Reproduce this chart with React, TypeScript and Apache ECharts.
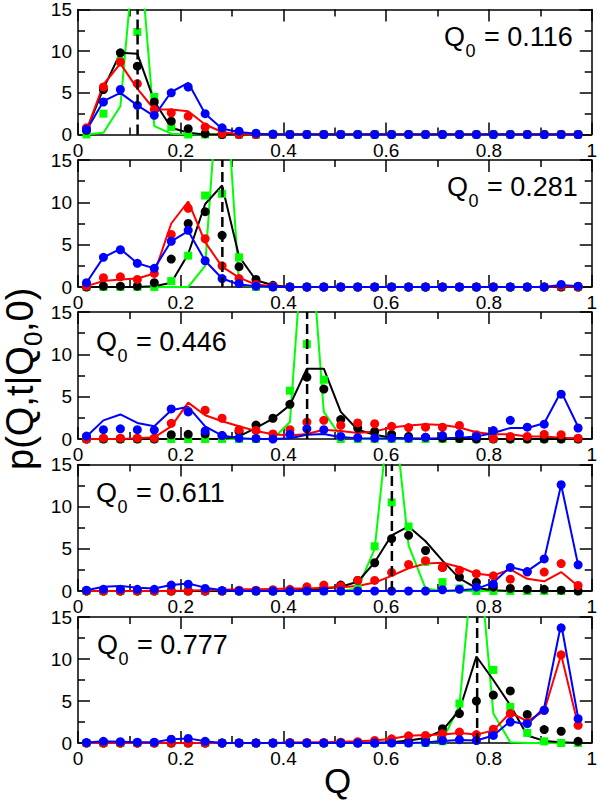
import React, { useEffect, useRef } from 'react';
import * as echarts from 'echarts';

// ---- bin centres (Q) ----
const Q = [0.0165, 0.0495, 0.0825, 0.1155, 0.1485, 0.1815, 0.2145, 0.2475, 0.2805, 0.3135,
  0.3465, 0.3795, 0.4125, 0.4455, 0.4785, 0.5115, 0.5445, 0.5775, 0.6105, 0.6435,
  0.6765, 0.7095, 0.7425, 0.7755, 0.8085, 0.8415, 0.8745, 0.9075, 0.9405, 0.9735];

const Q0 = [0.116, 0.281, 0.446, 0.611, 0.777];
const Q0_TEXT = ['0.116', '0.281', '0.446', '0.611', '0.777'];
const X_LABELS = ['0', '0.2', '0.4', '0.6', '0.8', '1'];

// ---- panel 1 : Q0 = 0.116 ----
const p1GreenLine = [0, 0.2, 3.4, 26, 1.0, 0.1, 0, 0, 0, 0, 0, 0, 0, 0, 0, 0, 0, 0, 0, 0, 0, 0, 0, 0, 0, 0, 0, 0, 0, 0];
const p1GreenSq = [0, 2.5, 8.8, 12.3, 4.5, 0.9, 0, 0, 0, 0, 0, 0, 0, 0, 0, 0, 0, 0, 0, 0, 0, 0, 0, 0, 0, 0, 0, 0, 0, 0];
const p1BlackLine = [0.5, 5.5, 9.8, 9.7, 4.0, 0.8, 0.2, 0, 0, 0, 0, 0, 0, 0, 0, 0, 0, 0, 0, 0, 0, 0, 0, 0, 0, 0, 0, 0, 0, 0];
const p1BlackDots = [0.5, 5.4, 9.8, 8.2, 3.9, 1.6, 0.7, 0.1, 0, 0, 0, 0, 0, 0, 0, 0, 0, 0, 0, 0, 0, 0, 0, 0, 0, 0, 0, 0, 0, 0];
const p1RedLine = [0.5, 6.0, 8.5, 5.5, 3.0, 3.0, 2.8, 1.2, 0.3, 0, 0, 0, 0, 0, 0, 0, 0, 0, 0, 0, 0, 0, 0, 0, 0, 0, 0, 0, 0, 0];
const p1RedDots = [0.8, 5.7, 8.7, 6.1, 3.0, 2.6, 2.2, 0.9, 0.1, 0, 0, 0, 0, 0, 0, 0, 0, 0, 0, 0, 0, 0, 0, 0, 0, 0, 0, 0, 0, 0];
const p1BlueLine = [0.5, 4.0, 5.0, 3.5, 2.2, 5.1, 6.2, 2.5, 0.7, 0.3, 0.1, 0, 0, 0, 0, 0, 0, 0, 0, 0, 0, 0, 0, 0, 0, 0, 0, 0, 0, 0];
const p1BlueDots = [0.6, 3.9, 5.4, 3.5, 2.3, 5.0, 5.7, 2.5, 0.8, 0.4, 0.15, 0.05, 0, 0, 0, 0, 0, 0, 0, 0, 0, 0, 0, 0, 0, 0, 0, 0, 0, 0];

// ---- panel 2 : Q0 = 0.281 ----
const p2GreenLine = [0, 0, 0, 0, 0, 0, 0, 2.5, 31, 0.3, 0, 0, 0, 0, 0, 0, 0, 0, 0, 0, 0, 0, 0, 0, 0, 0, 0, 0, 0, 0];
const p2GreenSq = [0, 0, 0, 0, 0, 0.7, 3.7, 10.8, 11.0, 3.5, 0, 0, 0, 0, 0, 0, 0, 0, 0, 0, 0, 0, 0, 0, 0, 0, 0, 0, 0, 0];
const p2BlackLine = [0, 0, 0, 0, 0.1, 0.5, 3.9, 9.8, 12.0, 3.6, 0.8, 0.2, 0, 0, 0, 0, 0, 0, 0, 0, 0, 0, 0, 0, 0, 0, 0, 0, 0, 0];
const p2BlackDots = [0, 0.1, 0.1, 0.1, 0.5, 3.3, 7.5, 8.9, 6.1, 2.4, 0.9, 0.2, 0, 0, 0, 0, 0, 0, 0, 0, 0, 0, 0, 0, 0, 0, 0, 0, 0, 0];
const p2RedLine = [0.1, 0.7, 0.9, 1.0, 1.6, 7.5, 10.1, 5.3, 2.4, 1.1, 0.3, 0.1, 0, 0, 0, 0, 0, 0, 0, 0, 0, 0, 0, 0, 0, 0, 0, 0, 0.1, 0];
const p2RedDots = [0.1, 1.1, 1.2, 0.9, 1.6, 6.2, 9.3, 5.7, 2.5, 1.0, 0.3, 0.1, 0, 0, 0, 0, 0, 0, 0, 0, 0, 0, 0, 0, 0, 0, 0, 0, 0.1, 0];
const p2BlueLine = [0.5, 3.5, 4.5, 2.8, 2.2, 5.4, 6.6, 3.1, 1.0, 0.3, 0.1, 0, 0, 0, 0, 0, 0, 0, 0, 0, 0, 0, 0, 0, 0, 0, 0, 0, 0.25, 0.1];
const p2BlueDots = [0.5, 3.5, 4.4, 2.8, 2.2, 5.4, 6.7, 3.1, 1.0, 0.4, 0.1, 0, 0, 0, 0, 0, 0, 0, 0, 0, 0, 0, 0, 0, 0, 0, 0, 0, 0.3, 0.1];

// ---- panel 3 : Q0 = 0.446 ----
const p3GreenLine = [0, 0, 0, 0, 0, 0, 0, 0, 0, 0, 0, 0, 2.0, 30, 3.2, 0.3, 0, 0, 0, 0, 0, 0, 0, 0, 0, 0, 0, 0, 0, 0];
const p3GreenSq = [0, 0, 0, 0, 0, 0, 0, 0, 0, 0, 0, 0.3, 5.7, 11.2, 7.0, 0, 0, 0, 0, 0, 0, 0, 0, 0, 0, 0, 0, 0, 0, 0];
const p3BlackLine = [0, 0, 0, 0, 0, 0, 0, 0, 0, 0.3, 1.3, 2.4, 4.0, 8.3, 8.3, 3.2, 1.1, 0.5, 0.15, 0.05, 0, 0, 0, 0, 0, 0, 0, 0, 0, 0];
const p3BlackDots = [0, 0, 0, 0, 0, 0.5, 0.55, 0.6, 0.4, 0.9, 1.65, 2.45, 4.1, 7.3, 5.9, 2.3, 1.3, 0.9, 0.55, 0.3, 0.2, 0.1, 0.05, 0, 0, 0, 0, 0, 0, 0];
const p3RedLine = [0, 0, 0, 0.1, 0.2, 1.5, 4.3, 2.8, 2.1, 1.5, 0.95, 0.55, 0.4, 0.6, 1.1, 0.95, 0.7, 0.9, 1.35, 1.6, 1.75, 1.65, 1.35, 0.8, 0.55, 0.55, 0.3, 0.3, 0.15, 0.1];
const p3RedDots = [0, 0.1, 0.1, 0.1, 0.1, 1.85, 3.3, 3.4, 2.45, 1.1, 1.0, 0.6, 1.1, 2.0, 2.2, 1.6, 1.9, 1.8, 1.5, 1.35, 1.4, 1.4, 1.6, 0.5, 0.05, 0.3, 0.3, 0.55, 0.5, 0.1];
const p3BlueLine = [0.3, 2.2, 2.9, 1.9, 1.5, 3.4, 3.8, 1.5, 0.4, 0.1, 0, 0, 0.1, 0.5, 0.6, 0.2, 0.1, 0.05, 0.05, 0.05, 0.05, 0.1, 0.15, 0.3, 0.7, 1.3, 1.3, 1.85, 5.6, 1.45];
const p3BlueDots = [0.35, 1.1, 1.2, 1.1, 1.05, 3.55, 3.2, 0.95, 0.4, 0.1, 0.05, 0, 0.55, 1.2, 1.1, 0.3, 0.15, 0.1, 0.1, 0.1, 0.2, 0.4, 0.6, 0.3, 1.0, 2.2, 1.4, 1.75, 5.3, 1.3];

// ---- panel 4 : Q0 = 0.611 ----
const p4GreenLine = [0, 0, 0, 0, 0, 0, 0, 0, 0, 0, 0, 0, 0, 0, 0, 0, 0.3, 5.0, 24, 5.4, 0.3, 0, 0, 0, 0, 0, 0, 0, 0, 0];
const p4GreenSq = [0, 0, 0, 0, 0, 0, 0, 0, 0, 0, 0, 0, 0, 0, 0, 0, 0.3, 5.3, 10.5, 7.65, 3.45, 1.05, 0.3, 0, 0, 0, 0, 0, 0, 0];
const p4BlackLine = [0, 0, 0, 0, 0, 0, 0, 0, 0, 0, 0, 0, 0.05, 0.15, 0.3, 0.5, 1.1, 3.4, 6.6, 7.65, 5.9, 3.6, 1.5, 0.35, 0.1, 0, 0, 0, 0, 0];
const p4BlackDots = [0, 0, 0, 0, 0, 0, 0, 0, 0, 0, 0, 0, 0, 0.2, 0.3, 0.7, 1.25, 3.35, 6.2, 6.6, 4.8, 2.8, 1.65, 1.05, 0.45, 0.3, 0.2, 0.2, 0.1, 0];
const p4RedLine = [0, 0, 0, 0, 0, 0, 0.05, 0.1, 0.15, 0.2, 0.2, 0.25, 0.3, 0.3, 0.4, 0.45, 0.6, 1.0, 1.8, 2.7, 3.25, 3.35, 2.85, 2.05, 1.85, 2.55, 1.45, 1.15, 2.25, 0.6];
const p4RedDots = [0, 0, 0, 0, 0, 0, 0, 0, 0, 0.1, 0.1, 0.15, 0.2, 0.5, 0.7, 0.6, 1.25, 1.25, 2.2, 3.15, 3.6, 2.8, 2.45, 2.05, 1.8, 1.4, 2.25, 2.25, 3.25, 0.65];
const p4BlueLine = [0.1, 0.5, 0.6, 0.4, 0.3, 0.7, 0.9, 0.4, 0.1, 0, 0, 0, 0, 0, 0, 0, 0, 0, 0, 0, 0, 0, 0.1, 0.25, 1.0, 2.85, 2.35, 3.75, 12.6, 3.1];
const p4BlueDots = [0.1, 0.2, 0.2, 0.2, 0.2, 0.7, 0.8, 0.3, 0.05, 0, 0, 0, 0, 0, 0, 0, 0, 0, 0, 0, 0, 0.15, 0.2, 0.45, 0.8, 2.8, 2.3, 3.8, 12.6, 3.1];

// ---- panel 5 : Q0 = 0.777 ----
const p5GreenLine = [0, 0, 0, 0, 0, 0, 0, 0, 0, 0, 0, 0, 0, 0, 0, 0, 0, 0, 0, 0, 0, 0.3, 4.5, 26, 3.5, 0.1, 0, 0, 0, 0];
const p5GreenSq = [0, 0, 0, 0, 0, 0, 0, 0, 0, 0, 0, 0, 0, 0, 0, 0, 0, 0, 0, 0, 0, 0.2, 4.7, 17, 8.7, 4.3, 1.2, 0.2, 0, 0];
const p5BlackLine = [0, 0, 0, 0, 0, 0, 0, 0, 0, 0, 0, 0, 0, 0, 0, 0, 0, 0.05, 0.1, 0.3, 0.6, 1.5, 3.9, 10.3, 7.5, 4.5, 0.9, 0.25, 0.1, 0];
const p5BlackDots = [0, 0, 0, 0, 0, 0, 0, 0, 0, 0, 0, 0, 0, 0, 0, 0, 0, 0, 0.1, 0.2, 0.4, 1.7, 3.5, 5.0, 5.7, 6.2, 3.4, 1.6, 1.4, 0.2];
const p5RedLine = [0, 0, 0, 0, 0, 0, 0, 0, 0, 0, 0, 0, 0.05, 0.1, 0.1, 0.15, 0.2, 0.3, 0.5, 0.85, 0.95, 1.0, 1.2, 1.0, 1.5, 3.6, 2.6, 3.8, 10.5, 2.1];
const p5RedDots = [0, 0, 0, 0, 0, 0, 0, 0, 0, 0, 0, 0, 0.05, 0.05, 0.05, 0.1, 0.15, 0.3, 0.5, 0.85, 0.9, 1.1, 1.3, 1.0, 1.65, 3.5, 2.45, 3.9, 10.5, 2.1];
const p5BlueLine = [0.05, 0.2, 0.15, 0.1, 0.1, 0.45, 0.55, 0.2, 0, 0, 0, 0, 0, 0, 0, 0, 0, 0, 0, 0, 0.05, 0.25, 0.35, 0.3, 0.9, 2.6, 2.2, 4.2, 14.2, 3.0];
const p5BlueDots = [0.05, 0.2, 0.15, 0.1, 0.1, 0.45, 0.55, 0.2, 0, 0, 0, 0, 0, 0, 0, 0, 0, 0, 0, 0, 0.05, 0.3, 0.4, 0.3, 0.9, 2.5, 2.3, 3.9, 13.7, 2.9];

const PANELS = [
  { gl: p1GreenLine, gs: p1GreenSq, kl: p1BlackLine, kd: p1BlackDots, rl: p1RedLine, rd: p1RedDots, bl: p1BlueLine, bd: p1BlueDots },
  { gl: p2GreenLine, gs: p2GreenSq, kl: p2BlackLine, kd: p2BlackDots, rl: p2RedLine, rd: p2RedDots, bl: p2BlueLine, bd: p2BlueDots },
  { gl: p3GreenLine, gs: p3GreenSq, kl: p3BlackLine, kd: p3BlackDots, rl: p3RedLine, rd: p3RedDots, bl: p3BlueLine, bd: p3BlueDots },
  { gl: p4GreenLine, gs: p4GreenSq, kl: p4BlackLine, kd: p4BlackDots, rl: p4RedLine, rd: p4RedDots, bl: p4BlueLine, bd: p4BlueDots },
  { gl: p5GreenLine, gs: p5GreenSq, kl: p5BlackLine, kd: p5BlackDots, rl: p5RedLine, rd: p5RedDots, bl: p5BlueLine, bd: p5BlueDots },
];

// ---- layout ----
const FONT = "'Liberation Sans', Arial, Helvetica, sans-serif";
const GRID_LEFT = 78;
const GRID_WIDTH = 519;
const GRID_TOPS = [7.5, 160, 312, 464.5, 617];
const GRID_HEIGHTS = [127, 127, 127, 126.5, 126];
const LABEL_POS = [
  { x: 444, y: 37 },
  { x: 447, y: 187 },
  { x: 96, y: 342 },
  { x: 96, y: 493 },
  { x: 97, y: 645 },
];

const GREEN = '#00ff00';
const RED = '#ff0000';
const BLUE = '#0000ff';
const BLACK = '#000000';

const pairs = (vals: number[]) => vals.map((v, i) => [Q[i], v]);

function xAxisFor(i: number, pos: 'bottom' | 'top') {
  return {
    type: 'value', gridIndex: i, position: pos, min: 0, max: 1, interval: 0.2,
    axisLine: { show: true, onZero: false, lineStyle: { color: BLACK, width: 1.5 } },
    axisTick: { show: true, inside: true, length: 12, lineStyle: { color: BLACK, width: 1.5 } },
    minorTick: { show: true, splitNumber: 2, length: 7, lineStyle: { color: BLACK, width: 1.5 } },
    splitLine: { show: false },
    minorSplitLine: { show: false },
    axisLabel: {
      show: pos === 'bottom', color: BLACK, fontSize: 19, fontFamily: FONT, margin: 6,
      formatter: (v: number) => X_LABELS[Math.round(v / 0.2)] ?? String(v),
    },
  };
}

function yAxisFor(i: number, pos: 'left' | 'right') {
  return {
    type: 'value', gridIndex: i, position: pos, min: 0, max: 15, interval: 5,
    axisLine: { show: true, onZero: false, lineStyle: { color: BLACK, width: 1.5 } },
    axisTick: { show: true, inside: true, length: 12, lineStyle: { color: BLACK, width: 1.5 } },
    minorTick: { show: true, splitNumber: 2, length: 7, lineStyle: { color: BLACK, width: 1.5 } },
    splitLine: { show: false },
    minorSplitLine: { show: false },
    axisLabel: { show: pos === 'left', color: BLACK, fontSize: 19, fontFamily: FONT, margin: 6 },
  };
}

const txt = (text: string, x: number, y: number, size: number, align = 'left') => ({
  type: 'text', x, y, silent: true,
  style: { text, fill: BLACK, fontSize: size, fontFamily: FONT, textAlign: align, textVerticalAlign: 'middle', align, verticalAlign: 'middle' },
});

function buildOption() {
  const grid: any[] = [];
  const xAxis: any[] = [];
  const yAxis: any[] = [];
  const series: any[] = [];
  const graphic: any[] = [];

  PANELS.forEach((p, i) => {
    grid.push({ left: GRID_LEFT, top: GRID_TOPS[i], width: GRID_WIDTH, height: GRID_HEIGHTS[i], containLabel: false });
    xAxis.push(xAxisFor(i, 'bottom'));
    yAxis.push(yAxisFor(i, 'left'));
  });
  PANELS.forEach((p, i) => {
    xAxis.push(xAxisFor(i, 'top'));
    yAxis.push(yAxisFor(i, 'right'));
  });

  PANELS.forEach((p, i) => {
    const base = { xAxisIndex: i, yAxisIndex: i, silent: true };
    const line = (data: number[], color: string, w: number) => ({
      ...base, type: 'line', data: pairs(data), symbol: 'none', clip: true,
      lineStyle: { color, width: w, opacity: 1 }, z: 2,
    });
    const dots = (data: number[], color: string, symbol: string, size: number) => ({
      ...base, type: 'scatter', data: pairs(data), symbol, symbolSize: size, clip: true,
      itemStyle: { color, opacity: 1 }, z: 3,
    });
    series.push(line(p.gl, GREEN, 2));
    series.push(line(p.kl, BLACK, 2));
    series.push(line(p.rl, RED, 2));
    series.push(line(p.bl, BLUE, 2));
    series.push(dots(p.gs, GREEN, 'rect', 8));
    series.push(dots(p.kd, BLACK, 'circle', 9));
    series.push(dots(p.rd, RED, 'circle', 9));
    series.push(dots(p.bd, BLUE, 'circle', 9));
    series.push({
      ...base, type: 'line', data: [[Q0[i], 0], [Q0[i], 15]], symbol: 'none',
      lineStyle: { color: BLACK, width: 2.5, type: [10, 5] }, z: 5,
    });

    const lp = LABEL_POS[i];
    graphic.push({
      type: 'group', x: lp.x, y: lp.y, silent: true,
      children: [
        txt('Q', 0, 0, 27),
        txt('0', 21.5, 14, 18),
        txt('= ' + Q0_TEXT[i], 40, 0, 27),
      ],
    });
  });

  // y-axis title p(Q,t|Q0,0)
  graphic.push({
    type: 'group', x: 20, y: 379, rotation: Math.PI / 2, silent: true,
    children: [
      txt('p(Q,t|Q', -91, 0, 38),
      txt('0', 33, 13, 26),
      txt(',0)', 47, 0, 38),
    ],
  });

  // x-axis title Q
  graphic.push(txt('Q', GRID_LEFT + GRID_WIDTH / 2, 780, 35, 'center'));

  return {
    animation: false,
    backgroundColor: '#ffffff',
    grid, xAxis, yAxis, series, graphic,
  };
}

export default function App() {
  const ref = useRef<HTMLDivElement>(null);
  useEffect(() => {
    if (!ref.current) return;
    const chart = echarts.init(ref.current, undefined, { renderer: 'svg' });
    chart.setOption(buildOption() as any);
    return () => chart.dispose();
  }, []);
  return <div ref={ref} style={{ position: 'fixed', left: 0, top: 0, width: 600, height: 802, background: '#fff' }} />;
}
